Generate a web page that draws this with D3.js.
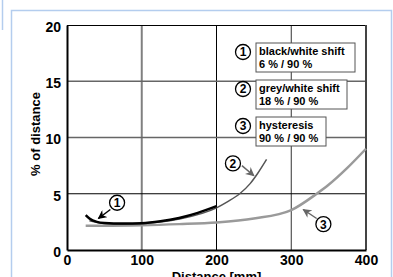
<!DOCTYPE html>
<html>
<head>
<meta charset="utf-8">
<script src="https://cdn.jsdelivr.net/npm/d3@7"></script>
<style>
  body { margin: 0; background: #fff; }
  svg { display: block; font-family: Arial, "Liberation Sans", sans-serif; }
</style>
</head>
<body>
<svg width="393" height="277"></svg>
<script>
// data
var xTicks = [0, 100, 200, 300, 400];
var yTicks = [0, 5, 10, 15, 20];

// curve 1: black/white shift
var c1x = [25, 30, 40, 50, 75, 100, 125, 150, 175, 200];
var c1y = [3.1, 2.8, 2.5, 2.4, 2.35, 2.38, 2.55, 2.85, 3.3, 3.9];
// curve 2: grey/white shift
var c2x = [30, 50, 75, 100, 150, 200, 215, 231, 245, 255, 267];
var c2y = [2.6, 2.35, 2.3, 2.35, 2.75, 3.75, 4.3, 5.0, 5.9, 6.8, 8.05];
// curve 3: hysteresis
var c3x = [25, 100, 150, 200, 250, 300, 334, 350, 375, 400];
var c3y = [2.15, 2.2, 2.3, 2.45, 2.8, 3.55, 5.0, 5.8, 7.3, 9.0];

var legendNums = ["1", "2", "3"];
var legendLine1 = ["black/white shift", "grey/white shift", "hysteresis"];
var legendLine2 = ["6 % / 90 %", "18 % / 90 %", "90 % / 90 %"];

var svg = d3.select("svg");
var margin = {top: 25, right: 27, bottom: 27, left: 67};
var width = 393 - margin.left - margin.right,
    height = 277 - margin.top - margin.bottom;

// light blue frame
var frame = svg.append("g").attr("stroke", "#b4cdee").attr("stroke-width", 1.5).attr("fill", "none");
frame.append("path").attr("d", "M11.5,277 V10.5 H391.5 V277");
frame.append("line").attr("x1", 2.5).attr("x2", 2.5).attr("y1", 0).attr("y2", 30);

var x = d3.scaleLinear().domain([0, 400]).range([0, width]);
var y = d3.scaleLinear().domain([0, 20]).range([height, 0]);

var g = svg.append("g").attr("transform", "translate(" + margin.left + "," + margin.top + ")");

// grid
var vGrid = {100: ["#808080", 2], 200: ["#000", 1], 300: ["#333", 1]};
var hGrid = {5: ["#000", 1], 10: ["#666", 1.5], 15: ["#666", 1.5]};
g.selectAll(".vg").data(xTicks.filter(function(d) { return vGrid[d]; }))
  .enter().append("line")
    .attr("x1", function(d) { return x(d); }).attr("x2", function(d) { return x(d); })
    .attr("y1", 0).attr("y2", height)
    .attr("stroke", function(d) { return vGrid[d][0]; })
    .attr("stroke-width", function(d) { return vGrid[d][1]; });
g.selectAll(".hg").data(yTicks.filter(function(d) { return hGrid[d]; }))
  .enter().append("line")
    .attr("y1", function(d) { return y(d); }).attr("y2", function(d) { return y(d); })
    .attr("x1", 0).attr("x2", width)
    .attr("stroke", function(d) { return hGrid[d][0]; })
    .attr("stroke-width", function(d) { return hGrid[d][1]; });

// top + right frame of the plot
g.append("line").attr("x1", 0).attr("x2", width).attr("y1", 0.5).attr("y2", 0.5).attr("stroke", "#000");
g.append("line").attr("x1", width).attr("x2", width).attr("y1", 0).attr("y2", height).attr("stroke", "#444").attr("stroke-width", 2);

// axes
var xAxis = g.append("g").attr("transform", "translate(0," + height + ")")
  .call(d3.axisBottom(x).tickValues(xTicks).tickSize(0).tickPadding(5));
var yAxis = g.append("g")
  .call(d3.axisLeft(y).tickValues(yTicks).tickSize(0).tickPadding(6));
[xAxis, yAxis].forEach(function(a) {
  a.select(".domain").attr("stroke", "#000").attr("stroke-width", 2);
  a.selectAll("text").attr("font-size", 14).attr("font-weight", "bold").attr("fill", "#000")
    .attr("font-family", "Arial, 'Liberation Sans', sans-serif");
});
yAxis.selectAll("text").attr("dy", "0.45em");

// axis titles (bottom one is cut by the window, as in the original)
svg.append("text").attr("x", margin.left + x(200)).attr("y", 281)
  .attr("text-anchor", "middle").attr("font-size", 13).attr("font-weight", "bold")
  .text("Distance [mm]");
svg.append("text").attr("transform", "translate(40," + 134 + ") rotate(-90)")
  .attr("text-anchor", "middle").attr("font-size", 13).attr("font-weight", "bold")
  .text("% of distance");

// curves
var line = d3.line().x(function(d) { return x(d[0]); }).y(function(d) { return y(d[1]); })
  .curve(d3.curveMonotoneX);
function pairs(a, b) { return a.map(function(v, i) { return [v, b[i]]; }); }

g.append("path").datum(pairs(c3x, c3y)).attr("d", line)
  .attr("fill", "none").attr("stroke", "#9a9a9a").attr("stroke-width", 2.5);
g.append("path").datum(pairs(c2x, c2y)).attr("d", line)
  .attr("fill", "none").attr("stroke", "#555").attr("stroke-width", 1.5);
g.append("path").datum(pairs(c1x, c1y)).attr("d", line)
  .attr("fill", "none").attr("stroke", "#000").attr("stroke-width", 2.5);

// arrow markers
var defs = svg.append("defs");
[["ar-black", "#000"], ["ar-grey", "#666"]].forEach(function(m) {
  defs.append("marker").attr("id", m[0]).attr("viewBox", "0 0 10 10")
    .attr("refX", 9).attr("refY", 5).attr("markerWidth", 6).attr("markerHeight", 6)
    .attr("orient", "auto")
    .append("path").attr("d", "M0,0 L10,5 L0,10 L3,5 Z").attr("fill", m[1]);
});

function circled(parent, cx, cy, txt) {
  parent.append("circle").attr("cx", cx).attr("cy", cy).attr("r", 7.5)
    .attr("fill", "#fff").attr("stroke", "#000").attr("stroke-width", 1.3);
  parent.append("text").attr("x", cx).attr("y", cy).attr("dy", "0.37em")
    .attr("text-anchor", "middle").attr("font-size", 12).attr("font-weight", "bold").text(txt);
}

// callouts on the curves, in data units
var callouts = [
  {n: "1", c: [67, 4.2], from: [58, 3.6], to: [42, 2.8], m: "ar-black", col: "#000"},
  {n: "2", c: [222, 7.7], from: [234, 7.5], to: [250, 6.6], m: "ar-grey", col: "#666"},
  {n: "3", c: [343, 2.3], from: [334, 2.8], to: [316, 3.6], m: "ar-grey", col: "#666"}
];
callouts.forEach(function(d) {
  g.append("line").attr("x1", x(d.from[0])).attr("y1", y(d.from[1]))
    .attr("x2", x(d.to[0])).attr("y2", y(d.to[1]))
    .attr("stroke", d.col).attr("stroke-width", 1.5).attr("marker-end", "url(#" + d.m + ")");
  circled(g, x(d.c[0]), y(d.c[1]), d.n);
});

// legend boxes
var boxW = [99, 91, 70];
var leg = g.selectAll(".leg").data(legendNums).enter().append("g")
  .attr("transform", function(d, i) { return "translate(189," + (18 + i * 37) + ")"; });
leg.append("rect").attr("x", 0).attr("y", 0).attr("width", function(d, i) { return boxW[i]; })
  .attr("height", 29).attr("fill", "#fff").attr("stroke", "#555").attr("stroke-width", 1);
leg.append("text").attr("x", 3).attr("y", 12).attr("font-size", 11).attr("font-weight", "bold")
  .text(function(d, i) { return legendLine1[i]; });
leg.append("text").attr("x", 3).attr("y", 25).attr("font-size", 11).attr("font-weight", "bold")
  .text(function(d, i) { return legendLine2[i]; });
leg.each(function(d) { circled(d3.select(this), -13, 9, d); });
</script>
</body>
</html>
